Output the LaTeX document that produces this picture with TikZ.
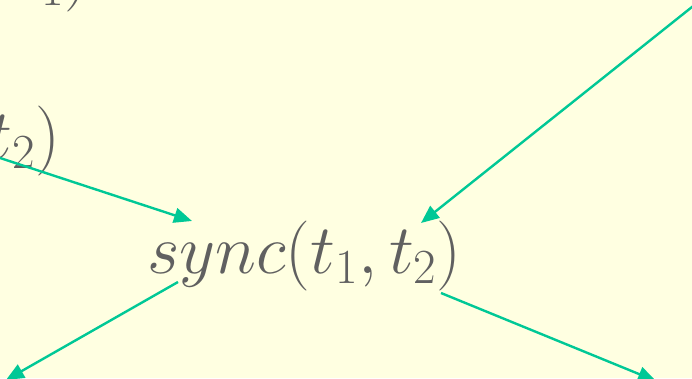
\RequirePackage{fix-cm}
\documentclass[tikz,border=0pt]{standalone}
\usetikzlibrary{arrows.meta}
\definecolor{bg}{RGB}{255,255,225}
\definecolor{txt}{RGB}{96,96,96}
\definecolor{arr}{RGB}{0,200,150}
\begin{document}
\begin{tikzpicture}[x=1pt,y=1pt,
  lbl/.style={text=txt,font=\fontsize{70}{74}\selectfont,inner sep=0pt},
  flow/.style={draw=arr,line width=2.4pt,-{Triangle[length=18pt,width=15pt]}}]
\fill[bg] (0,0) rectangle (692,378);
\useasboundingbox (0,0) rectangle (692,378);
\clip (0,0) rectangle (692,378);
% nodes
\node[lbl,anchor=base] (sync) at (304.5,105) {$sync(t_1,t_2)$};
\node[lbl,anchor=base east] (left) at (60,220) {$t_2)$};
\node[lbl,anchor=base east] (top) at (89,383) {$t_1)$};
% connector ends
\coordinate (src1) at (-10,223.3);
\coordinate (src2) at (697,375);
\coordinate (end3) at (6,-2);
\coordinate (end4) at (656,-3);
\coordinate (in1) at ([shift={(-112.5,52)}]sync.base);
\coordinate (in2) at ([shift={(116.5,50)}]sync.base);
\coordinate (out3) at ([shift={(-126.5,-9)}]sync.base);
\coordinate (out4) at ([shift={(136.5,-20)}]sync.base);
% connectors
\draw[flow] (src1) -- (in1);
\draw[flow] (src2) -- (in2);
\draw[flow] (out3) -- (end3);
\draw[flow] (out4) -- (end4);
\end{tikzpicture}
\end{document}
